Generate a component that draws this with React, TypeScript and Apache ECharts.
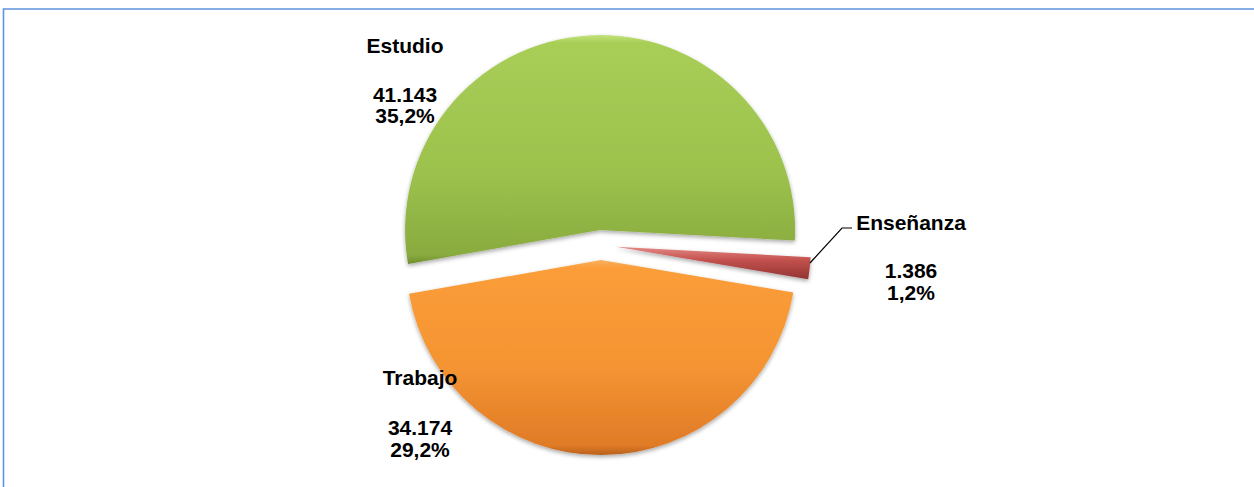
import React, { useEffect, useRef } from "react";
import * as echarts from "echarts";

const categories = ["Estudio", "Enseñanza", "Trabajo"];
const values = [41143, 1386, 34174];
const percents = [35.2, 1.2, 29.2];

const fmtVal = (v: number) => String(v).replace(/\B(?=(\d{3})+(?!\d))/g, ".");
const fmtPct = (p: number) => p.toFixed(1).replace(".", ",") + "%";

const grad = (stops: [number, string][]) =>
  new echarts.graphic.LinearGradient(0, 0, 0, 1, stops.map(([offset, color]) => ({ offset, color })));

const fills = [
  grad([[0, "#c2e27a"], [0.035, "#a8ce57"], [0.6, "#9cc24d"], [0.96, "#89ab3f"], [1, "#6f8f2e"]]),
  grad([[0, "#e58b88"], [0.4, "#c4524f"], [1, "#923331"]]),
  grad([[0, "#fbb161"], [0.04, "#fb9d39"], [0.55, "#f49432"], [0.95, "#e07b27"], [1, "#b9621b"]]),
];

// label layout (center x, name y, value y, percent y) — style positions only
const labelAnchors: [number, number, number, number][] = [
  [405, 45, 94.5, 115.5],
  [911, 222, 270, 292],
  [420, 377.5, 427, 449],
];

const font = 'bold 21px "Liberation Sans", Arial, sans-serif';

export default function App() {
  const ref = useRef<HTMLDivElement>(null);
  useEffect(() => {
    if (!ref.current) return;
    const chart = echarts.init(ref.current, undefined, { renderer: "svg" });
    const txt = (text: string, x: number, y: number) => ({
      type: "text",
      x,
      y,
      z: 100,
      silent: true,
      style: { text, font, fill: "#000", align: "center", verticalAlign: "middle" },
    });
    const labels: any[] = [];
    categories.forEach((name, i) => {
      const [x, yn, yv, yp] = labelAnchors[i];
      labels.push(txt(name, x, yn), txt(fmtVal(values[i]), x, yv), txt(fmtPct(percents[i]), x, yp));
    });
    chart.setOption({
      animation: false,
      graphic: [
        {
          type: "rect",
          shape: { x: 3.5, y: 9, width: 1400, height: 700 },
          style: { fill: "none", stroke: "#5f93dc", lineWidth: 1.6 },
          silent: true,
        },
        {
          type: "polyline",
          z: 100,
          shape: { points: [[810, 263], [842, 228], [852, 228]] },
          style: { fill: "none", stroke: "#000", lineWidth: 1.2 },
          silent: true,
        },
        ...labels,
      ],
      series: [
        {
          type: "pie",
          z: 2,
          center: [601, 245],
          radius: 195,
          startAngle: 190,
          clockwise: true,
          selectedMode: "multiple",
          selectedOffset: 15,
          avoidLabelOverlap: false,
          emphasis: { disabled: true },
          label: { show: false },
          labelLine: { show: false },
          data: categories.map((name, i) => ({
            name,
            value: values[i],
            selected: true,
            itemStyle: {
              color: fills[i],
              shadowBlur: 4,
              shadowColor: "rgba(0,0,0,0.35)",
              shadowOffsetY: 2,
            },
          })),
        },
      ],
    });
    return () => chart.dispose();
  }, []);
  return <div ref={ref} style={{ position: "absolute", left: 0, top: 0, width: 1254, height: 487 }} />;
}
